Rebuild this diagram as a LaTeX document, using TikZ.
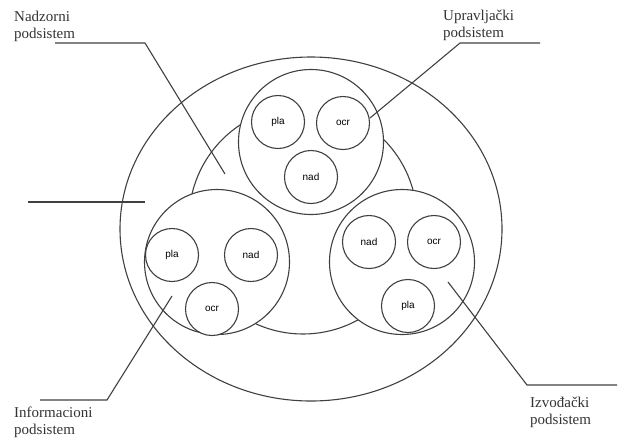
\documentclass[tikz,border=0pt]{standalone}
\usepackage{fontspec}
\setmainfont{Liberation Serif}
\setsansfont{Liberation Sans}
\usetikzlibrary{shapes.geometric}
\tikzset{
  ln/.style={line width=1.1pt, draw=black!75},
  big/.style={circle, ln, fill=white, minimum size=145pt, inner sep=0pt},
  small/.style={circle, ln, fill=white, minimum size=53pt, inner sep=0pt, font=\sffamily\fontsize{10}{12}\selectfont},
  lbl/.style={anchor=north west, inner sep=0pt, align=left, font=\fontsize{15}{17}\selectfont, text=black!80},
  leader/.style={line width=1.1pt, draw=black!75}
}
\begin{document}
\begin{tikzpicture}[x=1pt,y=-1pt]
\useasboundingbox (0,0) rectangle (623,440);
% outer ellipse and middle circle
\node[ellipse, ln, minimum width=382pt, minimum height=344pt, inner sep=0pt] (outer) at (311,229) {};
\node[circle, ln, minimum size=228pt, inner sep=0pt] (mid) at (303,220) {};
% three subsystem circles
\node[big] (top) at (311,142) {};
\node[big] (left) at (217,262) {};
\node[big] (right) at (402,262) {};
% inner circles
\node[small] (tpla) at (278,122) {pla};
\node[small] (tocr) at (343,123) {ocr};
\node[small] (tnad) at (311,177) {nad};
\node[small] (lpla) at (172,255) {pla};
\node[small] (lnad) at (251,255) {nad};
\node[small] (locr) at (212,309) {ocr};
\node[small] (rnad) at (369,242) {nad};
\node[small] (rocr) at (434,242) {ocr};
\node[small] (rpla) at (408,306) {pla};
% labels
\node[lbl] (lnadz) at (14,11) {Nadzorni\\podsistem};
\node[lbl] (lupr) at (443,10) {Upravljački\\podsistem};
\node[lbl] (linf) at (14,407) {Informacioni\\podsistem};
\node[lbl] (lizv) at (530,397) {Izvođački\\podsistem};
% leader coordinates
\coordinate (a1) at (55,43); \coordinate (a2) at (145,43); \coordinate (a3) at (225,174);
\coordinate (b1) at (540,43); \coordinate (b2) at (460,43); \coordinate (b3) at (370,118);
\coordinate (c1) at (40,400); \coordinate (c2) at (107,400); \coordinate (c3) at (172,296);
\coordinate (d1) at (617,385); \coordinate (d2) at (527,385); \coordinate (d3) at (448,282);
\coordinate (e1) at (28,202); \coordinate (e2) at (145,202);
\draw[leader] (a1) -- (a2) -- (a3);
\draw[leader] (b1) -- (b2) -- (b3);
\draw[leader] (c1) -- (c2) -- (c3);
\draw[leader] (d1) -- (d2) -- (d3);
\draw[leader] (e1) -- (e2);
\end{tikzpicture}
\end{document}
